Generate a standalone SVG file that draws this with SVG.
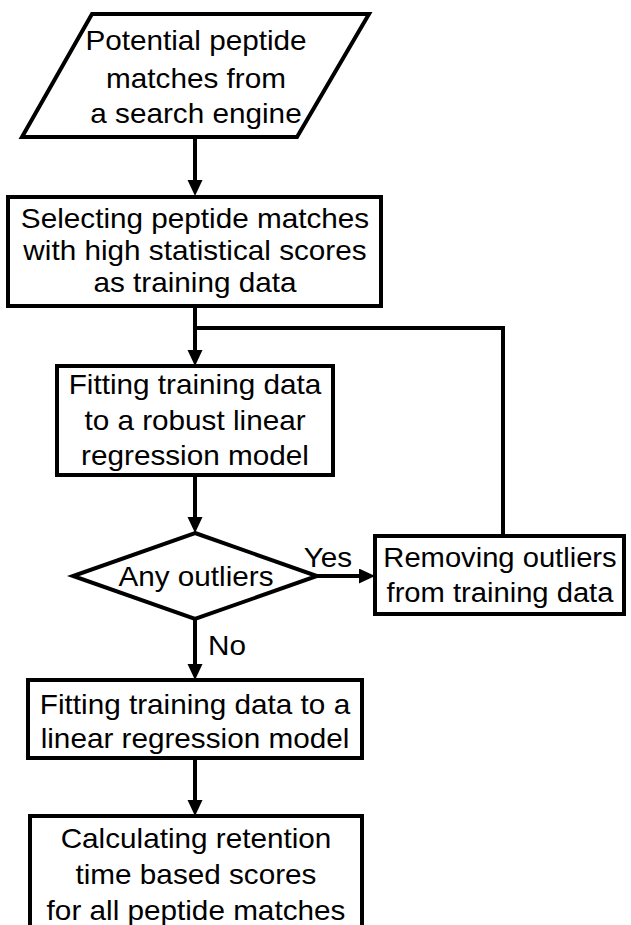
<svg xmlns="http://www.w3.org/2000/svg" width="631" height="925" viewBox="0 0 631 925">
<defs>
<style>
.shape{fill:#fff;stroke:#000;stroke-width:4}
.line{fill:none;stroke:#000;stroke-width:4}
text{font-family:"Liberation Sans",Arial,Helvetica,sans-serif;font-size:27px;fill:#000}
.c{text-anchor:middle}
</style>
<marker id="ah" markerUnits="userSpaceOnUse" markerWidth="18" markerHeight="16" refX="6" refY="7.5" orient="auto">
<path d="M0,0 L16,7.5 L0,15 z" fill="#000"/>
</marker>
</defs>
<rect width="631" height="925" fill="#fff"/>
<g id="connectors">
<line class="line" x1="195" y1="137" x2="195" y2="186" marker-end="url(#ah)"/>
<line class="line" x1="195" y1="306" x2="195" y2="356" marker-end="url(#ah)"/>
<polyline class="line" points="195,328 503,328 503,536"/>
<line class="line" x1="195" y1="475" x2="195" y2="523" marker-end="url(#ah)"/>
<line class="line" x1="317" y1="576" x2="365" y2="576" marker-end="url(#ah)"/>
<line class="line" x1="195" y1="619" x2="195" y2="670" marker-end="url(#ah)"/>
<line class="line" x1="195" y1="758" x2="195" y2="806" marker-end="url(#ah)"/>
<g transform="translate(328 0) scale(1.1 1) translate(-328 0)"><text class="c" x="328" y="567">Yes</text></g>
<g transform="translate(227 0) scale(1.1 1) translate(-227 0)"><text class="c" x="227" y="655">No</text></g>
</g>
<g id="input">
<polygon class="shape" points="92,14 369,14 297,137 22,137"/>
<g transform="translate(196 0) scale(1.1 1) translate(-196 0)">
<text class="c" x="196" y="50">Potential peptide</text>
<text class="c" x="196" y="88">matches from</text>
<text class="c" x="196" y="123">a search engine</text>
</g>
</g>
<g id="select">
<rect class="shape" x="8" y="197" width="373" height="109"/>
<g transform="translate(195 0) scale(1.1 1) translate(-195 0)">
<text class="c" x="195" y="228">Selecting peptide matches</text>
<text class="c" x="195" y="260">with high statistical scores</text>
<text class="c" x="195" y="292">as training data</text>
</g>
</g>
<g id="robust">
<rect class="shape" x="57" y="366" width="276" height="109"/>
<g transform="translate(195 0) scale(1.1 1) translate(-195 0)">
<text class="c" x="195" y="394">Fitting training data</text>
<text class="c" x="195" y="430">to a robust linear</text>
<text class="c" x="195" y="465">regression model</text>
</g>
</g>
<g id="decision">
<polygon class="shape" points="195,533 317,576 195,619 73,576"/>
<g transform="translate(196 0) scale(1.1 1) translate(-196 0)">
<text class="c" x="196" y="586">Any outliers</text>
</g>
</g>
<g id="remove">
<rect class="shape" x="375" y="536" width="249" height="78"/>
<g transform="translate(500 0) scale(1.08 1) translate(-500 0)">
<text class="c" x="500" y="567">Removing outliers</text>
<text class="c" x="500" y="602">from training data</text>
</g>
</g>
<g id="linear">
<rect class="shape" x="28" y="680" width="334" height="78"/>
<g transform="translate(195 0) scale(1.1 1) translate(-195 0)">
<text class="c" x="195" y="714">Fitting training data to a</text>
<text class="c" x="195" y="748">linear regression model</text>
</g>
</g>
<g id="scores">
<rect class="shape" x="30" y="816" width="332" height="130"/>
<g transform="translate(196 0) scale(1.1 1) translate(-196 0)">
<text class="c" x="196" y="848">Calculating retention</text>
<text class="c" x="196" y="884">time based scores</text>
<text class="c" x="196" y="920">for all peptide matches</text>
</g>
</g>
</svg>
